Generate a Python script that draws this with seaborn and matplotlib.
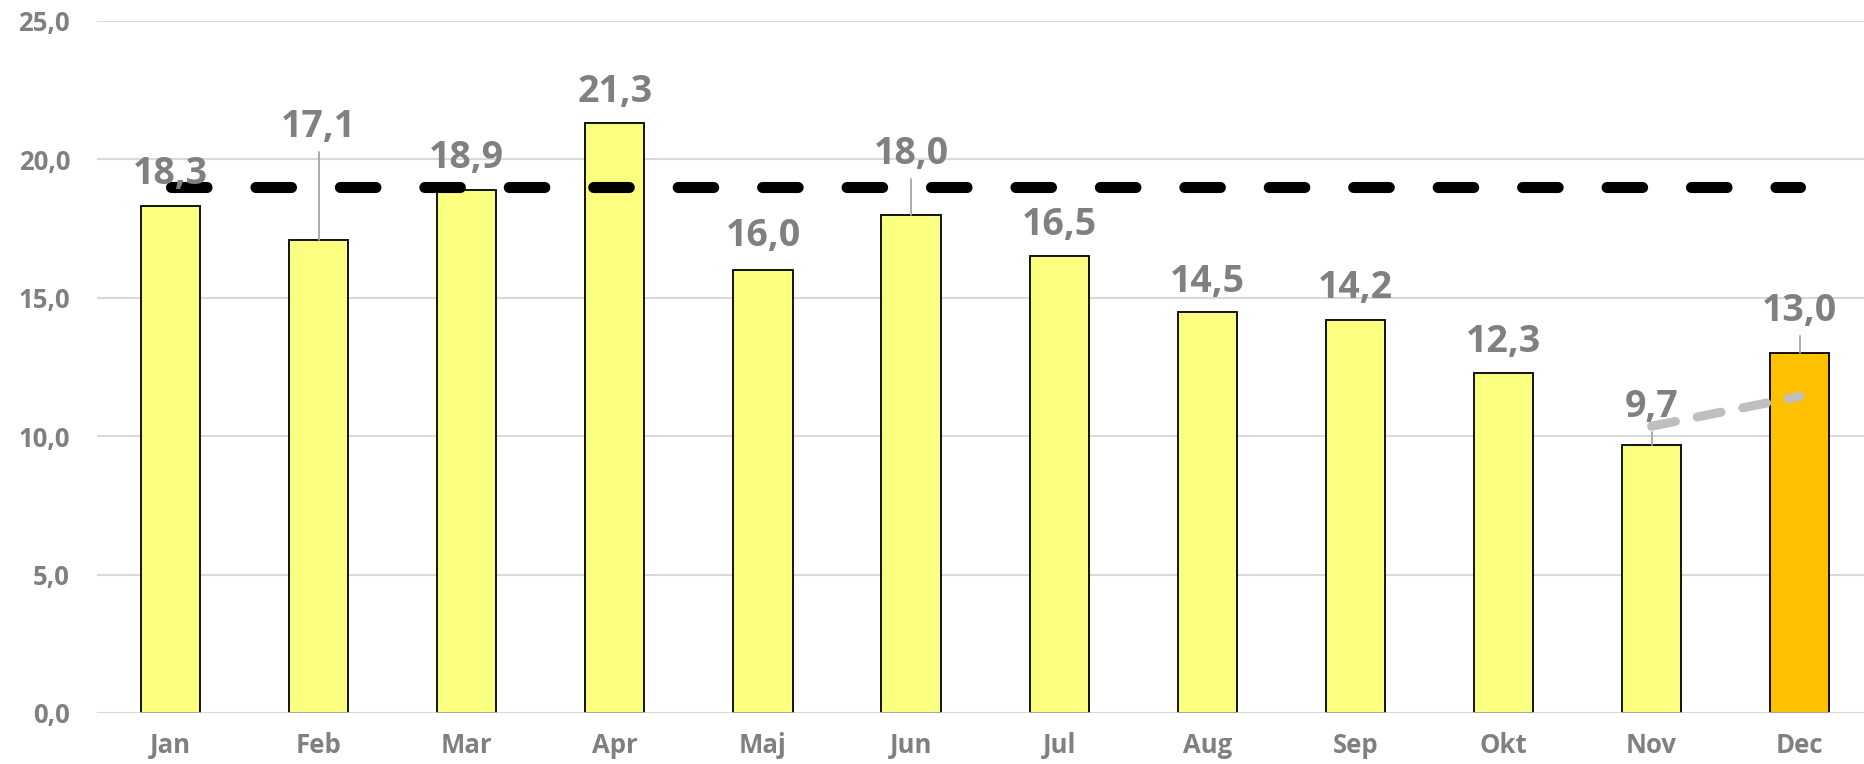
import matplotlib
matplotlib.use("Agg")
import matplotlib.pyplot as plt
from matplotlib import font_manager
import seaborn as sns
import pandas as pd

# ---- data ----
months = ["Jan", "Feb", "Mar", "Apr", "Maj", "Jun", "Jul", "Aug", "Sep", "Okt", "Nov", "Dec"]
values = [18.3, 17.1, 18.9, 21.3, 16.0, 18.0, 16.5, 14.5, 14.2, 12.3, 9.7, 13.0]
target = [19.0] * 12
trend_months = ["Nov", "Dec"]
trend_values = [10.36, 11.44]
ytick_values = [0, 5, 10, 15, 20, 25]
ytick_labels = ["0,0", "5,0", "10,0", "15,0", "20,0", "25,0"]
value_labels = ["18,3", "17,1", "18,9", "21,3", "16,0", "18,0", "16,5", "14,5", "14,2", "12,3", "9,7", "13,0"]

# ---- layout / style ----
label_offset = [0.8, 3.7, 0.8, 0.78, 0.87, 1.83, 0.77, 0.72, 0.79, 0.75, 1.0, 1.17]
leader = [False, True, False, False, False, True, False, False, False, False, True, True]
bar_colors = ["#FAFF80"] * 11 + ["#FFC000"]
GRAY = "#808080"


def pick_bold_family(prefs):
    for fam in prefs:
        for f in font_manager.fontManager.ttflist:
            w = f.weight
            if isinstance(w, str):
                w = {"bold": 700, "heavy": 800, "black": 900, "semibold": 600,
                     "demibold": 600, "extra bold": 800}.get(w.lower(), 400)
            if f.name == fam and w >= 700 and f.style == "normal":
                return fam
    return "DejaVu Sans"


FAMILY = pick_bold_family(["Open Sans", "Noto Sans", "Lato", "Roboto", "Inter",
                           "Liberation Sans", "DejaVu Sans"])

sns.set_theme(style="white")
plt.rcParams["font.family"] = [FAMILY, "DejaVu Sans"]

fig = plt.figure(figsize=(18.64, 7.64), dpi=100)
ax = fig.add_axes([96.5 / 1864, 51 / 764, (1864 - 96.5) / 1864, 692 / 764])

df = pd.DataFrame({"month": months, "value": values})
sns.barplot(data=df, x="month", y="value", hue="month", palette=bar_colors,
            legend=False, width=0.4, edgecolor="black", linewidth=1.3,
            saturation=1, ax=ax, zorder=2)

# target dashed line
sns.lineplot(x=months, y=target, ax=ax, color="black", linewidth=8.0,
             linestyle=(0, (3.2, 4.4)), dash_capstyle="round", zorder=3, sort=False)

# trend line Nov-Dec
sns.lineplot(x=trend_months, y=trend_values, ax=ax, color="#BFBFBF", linewidth=6.5,
             linestyle=(0, (2.7, 2.45)), dash_capstyle="round", zorder=4, sort=False)

# data labels with leader lines
for i, (v, lab, off, ld) in enumerate(zip(values, value_labels, label_offset, leader)):
    base = v + off
    if ld:
        ax.plot([i, i], [v, base - 0.55], color="#A6A6A6", linewidth=1.3, zorder=2.5)
    ax.text(i, base, lab, ha="center", va="baseline", fontsize=27,
            fontweight="bold", color=GRAY, zorder=6)

ax.set_xlim(-0.5, -0.5 + (1864 - 96.5) / 148.1)
ax.set_ylim(0, 25)
ax.set_yticks(ytick_values)
ax.set_yticklabels(ytick_labels)
ax.yaxis.grid(True, color="#D9D9D9", linewidth=1.5, zorder=0)
ax.set_axisbelow(True)
ax.axhline(0, color="#D9D9D9", linewidth=1.8, zorder=5)
for s in ax.spines.values():
    s.set_visible(False)
ax.tick_params(axis="both", length=0, labelsize=18.5, labelcolor=GRAY)
ax.tick_params(axis="y", pad=19)
ax.tick_params(axis="x", pad=14)
for t in ax.get_xticklabels() + ax.get_yticklabels():
    t.set_fontweight("bold")
ax.set_xlabel("")
ax.set_ylabel("")

fig.savefig("out.png", dpi=100)
